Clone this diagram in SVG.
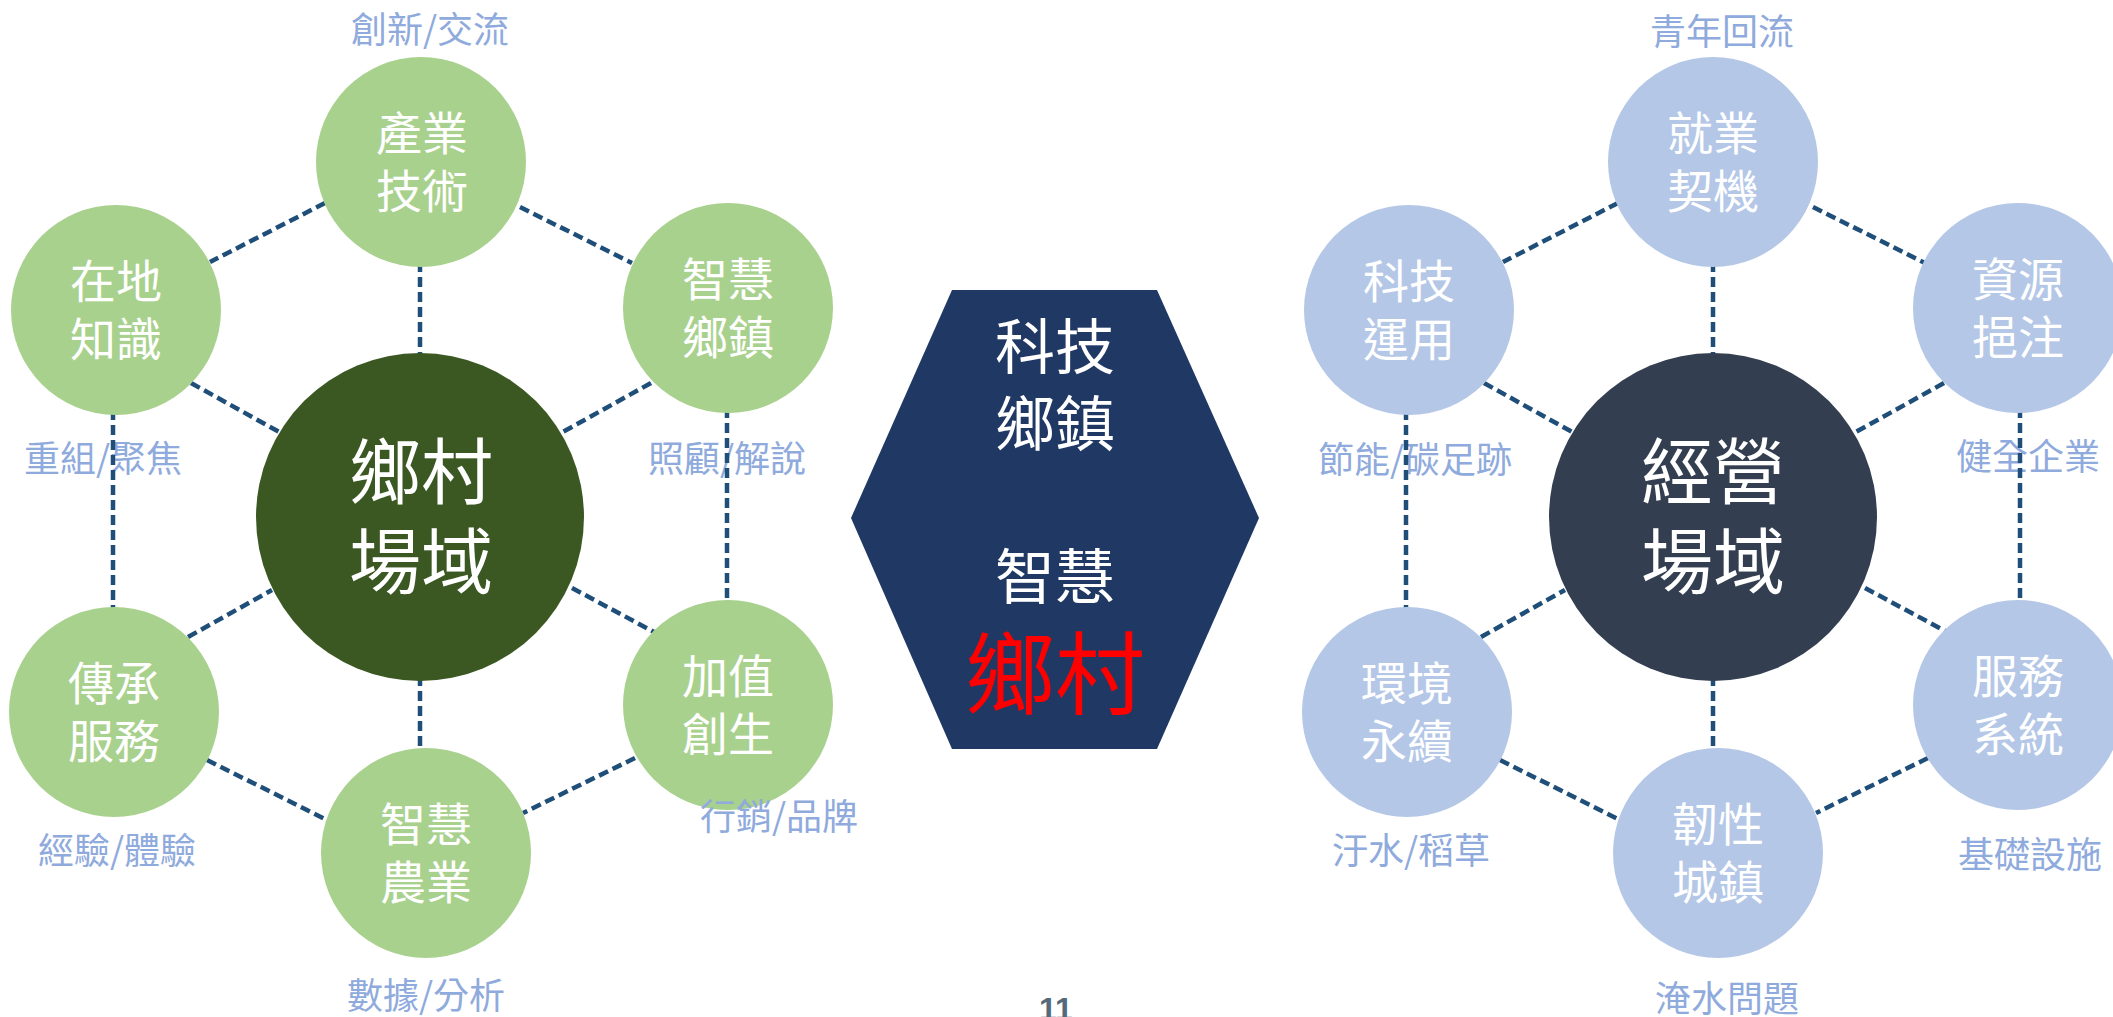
<svg xmlns="http://www.w3.org/2000/svg" width="2113" height="1017" viewBox="0 0 2113 1017">
<style>
  text { font-family: "Noto Sans CJK TC", "Noto Sans CJK SC", "Noto Sans", sans-serif; text-anchor: middle; }
  .lbl { font-size: 36px; fill: #8faadc; }
  .nt { font-size: 46px; fill: #ffffff; }
  .ct { font-size: 72px; fill: #ffffff; }
  .g { fill: #a9d18e; }
  .gc { fill: #3b5823; }
  .b { fill: #b4c7e7; }
  .bc { fill: #333f50; }
  .con line { stroke: #1f4e79; stroke-width: 4.5; stroke-dasharray: 10 5; fill: none; }
</style>
<rect width="2113" height="1017" fill="#ffffff"/>

<g id="labels">
  <text class="lbl" x="430" y="43">創新/交流</text>
  <text class="lbl" x="103" y="472">重組/聚焦</text>
  <text class="lbl" x="727" y="472">照顧/解說</text>
  <text class="lbl" x="117" y="864">經驗/體驗</text>
  <text class="lbl" x="426" y="1009">數據/分析</text>
  <text class="lbl" x="1722" y="45">青年回流</text>
  <text class="lbl" x="1415" y="473">節能/碳足跡</text>
  <text class="lbl" x="2028" y="470">健全企業</text>
  <text class="lbl" x="1411" y="864">汙水/稻草</text>
  <text class="lbl" x="2030" y="868">基礎設施</text>
  <text class="lbl" x="1727" y="1012">淹水問題</text>
</g>

<g id="connectors" class="con">
  <g id="left-connectors">
    <line x1="325" y1="203" x2="210" y2="262"/>
    <line x1="520" y1="207" x2="632" y2="263"/>
    <line x1="420" y1="262" x2="420" y2="357"/>
    <line x1="191" y1="383" x2="281" y2="433"/>
    <line x1="651" y1="383" x2="561" y2="433"/>
    <line x1="113" y1="410" x2="113" y2="610"/>
    <line x1="727" y1="408" x2="727" y2="604"/>
    <line x1="188" y1="637" x2="272" y2="590"/>
    <line x1="572" y1="588" x2="654" y2="632"/>
    <line x1="420" y1="676" x2="420" y2="752"/>
    <line x1="207" y1="760" x2="327" y2="820"/>
    <line x1="635" y1="758" x2="523" y2="813"/>
  </g>
  <g id="right-connectors" transform="translate(1293,0)">
    <line x1="325" y1="203" x2="210" y2="262"/>
    <line x1="520" y1="207" x2="632" y2="263"/>
    <line x1="420" y1="262" x2="420" y2="357"/>
    <line x1="191" y1="383" x2="281" y2="433"/>
    <line x1="651" y1="383" x2="561" y2="433"/>
    <line x1="113" y1="410" x2="113" y2="610"/>
    <line x1="727" y1="408" x2="727" y2="604"/>
    <line x1="188" y1="637" x2="272" y2="590"/>
    <line x1="572" y1="588" x2="654" y2="632"/>
    <line x1="420" y1="676" x2="420" y2="752"/>
    <line x1="207" y1="760" x2="327" y2="820"/>
    <line x1="635" y1="758" x2="523" y2="813"/>
  </g>
</g>

<!-- Left cluster -->
<g id="node-xiangcun-changyu">
  <circle class="gc" cx="420" cy="517" r="164"/>
  <text class="ct" x="421" y="498">鄉村</text>
  <text class="ct" x="421" y="588">場域</text>
</g>
<g id="node-chanye-jishu">
  <circle class="g" cx="421" cy="162" r="105"/>
  <text class="nt" x="422" y="150">產業</text>
  <text class="nt" x="422" y="208">技術</text>
</g>
<g id="node-zaidi-zhishi">
  <circle class="g" cx="116" cy="310" r="105"/>
  <text class="nt" x="116" y="298">在地</text>
  <text class="nt" x="116" y="356">知識</text>
</g>
<g id="node-zhihui-xiangzhen">
  <circle class="g" cx="728" cy="308" r="105"/>
  <text class="nt" x="728" y="296">智慧</text>
  <text class="nt" x="728" y="354">鄉鎮</text>
</g>
<g id="node-chuancheng-fuwu">
  <circle class="g" cx="114" cy="712" r="105"/>
  <text class="nt" x="114" y="700">傳承</text>
  <text class="nt" x="114" y="758">服務</text>
</g>
<g id="node-jiazhi-chuangsheng">
  <circle class="g" cx="728" cy="705" r="105"/>
  <text class="nt" x="728" y="693">加值</text>
  <text class="nt" x="728" y="751">創生</text>
</g>
<g id="node-zhihui-nongye">
  <circle class="g" cx="426" cy="853" r="105"/>
  <text class="nt" x="426" y="841">智慧</text>
  <text class="nt" x="426" y="899">農業</text>
</g>

<!-- Center hexagon -->
<g id="node-hexagon">
  <polygon points="952,290 1157,290 1259,518 1157,749 952,749 851,518" fill="#203864"/>
  <text x="1055" y="369" style="font-size:60px;fill:#ffffff">科技</text>
  <text x="1055" y="446" style="font-size:60px;fill:#ffffff">鄉鎮</text>
  <text x="1055" y="599" style="font-size:60px;fill:#ffffff">智慧</text>
  <text x="1055" y="707" style="font-size:90px;fill:#ff0000">鄉村</text>
</g>

<!-- Right cluster -->
<g id="node-jingying-changyu">
  <circle class="bc" cx="1713" cy="517" r="164"/>
  <text class="ct" x="1713" y="498">經營</text>
  <text class="ct" x="1713" y="588">場域</text>
</g>
<g id="node-jiuye-qiji">
  <circle class="b" cx="1713" cy="162" r="105"/>
  <text class="nt" x="1713" y="150">就業</text>
  <text class="nt" x="1713" y="208">契機</text>
</g>
<g id="node-keji-yunyong">
  <circle class="b" cx="1409" cy="310" r="105"/>
  <text class="nt" x="1409" y="298">科技</text>
  <text class="nt" x="1409" y="356">運用</text>
</g>
<g id="node-ziyuan-yizhu">
  <circle class="b" cx="2018" cy="308" r="105"/>
  <text class="nt" x="2018" y="296">資源</text>
  <text class="nt" x="2018" y="354">挹注</text>
</g>
<g id="node-huanjing-yongxu">
  <circle class="b" cx="1407" cy="712" r="105"/>
  <text class="nt" x="1407" y="700">環境</text>
  <text class="nt" x="1407" y="758">永續</text>
</g>
<g id="node-fuwu-xitong">
  <circle class="b" cx="2018" cy="705" r="105"/>
  <text class="nt" x="2018" y="693">服務</text>
  <text class="nt" x="2018" y="751">系統</text>
</g>
<g id="node-renxing-chengzhen">
  <circle class="b" cx="1718" cy="853" r="105"/>
  <text class="nt" x="1718" y="841">韌性</text>
  <text class="nt" x="1718" y="899">城鎮</text>
</g>

<text class="lbl" x="779" y="830">行銷/品牌</text>
<text x="1056" y="1020" style="font-family:'Liberation Sans',Arial,sans-serif;font-size:32px;font-weight:bold;fill:#56697a">11</text>
</svg>
